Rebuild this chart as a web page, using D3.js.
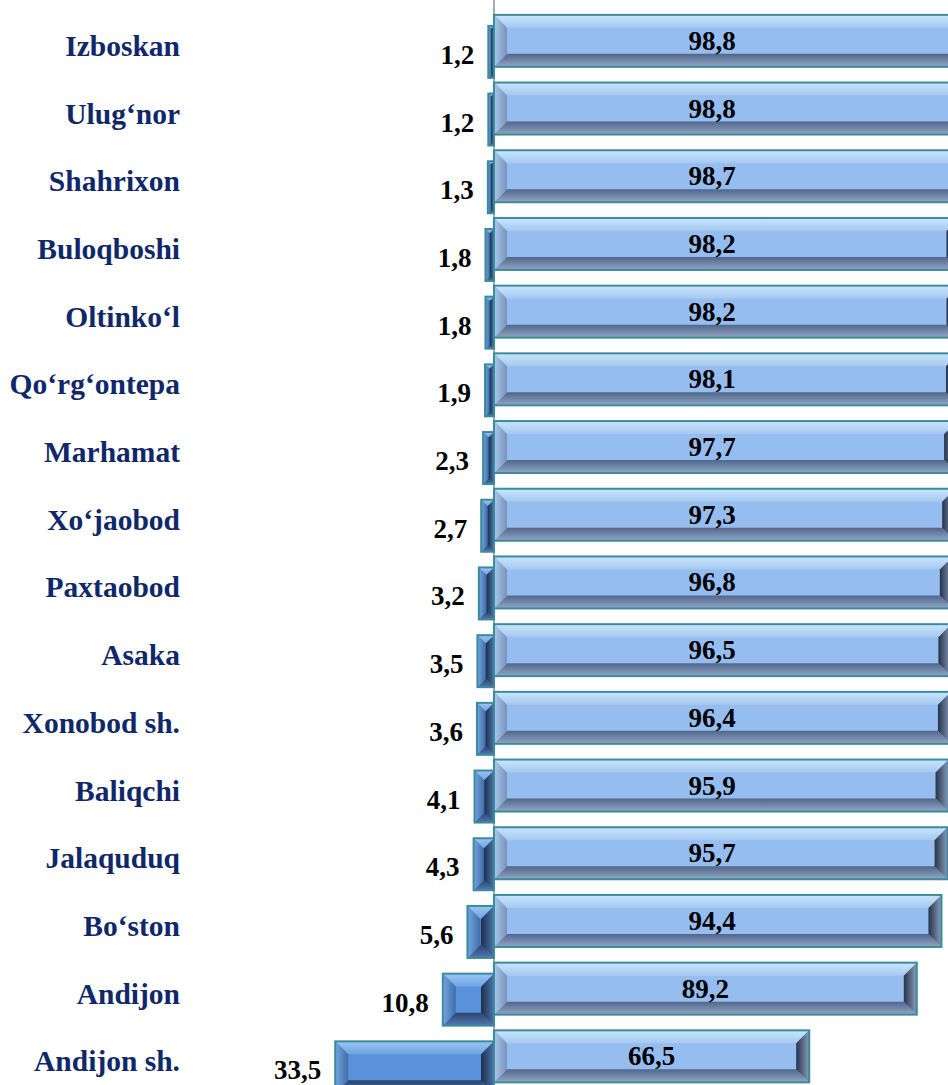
<!DOCTYPE html>
<html>
<head>
<meta charset="utf-8">
<script src="https://cdn.jsdelivr.net/npm/d3@7"></script>
<style>
  body { margin: 0; background: #fff; }
</style>
</head>
<body>
<div id="container"></div>
<script>
let w = 948;
let h = 1085;

// data
let categories = ["Izboskan", "Ulug‘nor", "Shahrixon", "Buloqboshi", "Oltinko‘l", "Qo‘rg‘ontepa",
  "Marhamat", "Xo‘jaobod", "Paxtaobod", "Asaka", "Xonobod sh.", "Baliqchi", "Jalaquduq",
  "Bo‘ston", "Andijon", "Andijon sh."];
let leftValues = [1.2, 1.2, 1.3, 1.8, 1.8, 1.9, 2.3, 2.7, 3.2, 3.5, 3.6, 4.1, 4.3, 5.6, 10.8, 33.5];
let rightValues = [98.8, 98.8, 98.7, 98.2, 98.2, 98.1, 97.7, 97.3, 96.8, 96.5, 96.4, 95.9, 95.7, 94.4, 89.2, 66.5];

let viz = d3.select("#container")
  .append("svg")
    .attr("width", w)
    .attr("height", h)
    .style("display", "block");

let zeroX = 494;
let xScale = d3.scaleLinear().domain([-100, 100]).range([zeroX - 474, zeroX + 474]);
let yScale = d3.scaleBand().domain(categories)
  .range([7, 7 + 16 * 67.7])
  .paddingInner(0.232)
  .paddingOuter(0.116);

let fmt = v => d3.format(".1f")(v).replace(".", ",");

// bevel colours for both series
let styles = {
  right: {
    border: "#3b8b9f", face: "#95bdf0",
    top: ["#c8e6fb", "#a6c8f1"], left: ["#a9c9ef", "#7892b6"],
    bottom: ["#50668a", "#93a7c6"], right: ["#263449", "#8a9dbd"]
  },
  left: {
    border: "#3b8b9f", face: "#5a92da",
    top: ["#9cc6f2", "#6ea3e2"], left: ["#74a6e4", "#3f6da6"],
    bottom: ["#28446e", "#5379b0"], right: ["#1c2f4b", "#4d74aa"]
  }
};

let defs = viz.append("defs");
function grad(id, c, vertical) {
  let g = defs.append("linearGradient").attr("id", id)
    .attr("x1", 0).attr("y1", 0)
    .attr("x2", vertical ? 0 : 1).attr("y2", vertical ? 1 : 0);
  g.append("stop").attr("offset", "0%").attr("stop-color", c[0]);
  g.append("stop").attr("offset", "100%").attr("stop-color", c[1]);
}
Object.keys(styles).forEach(k => {
  let s = styles[k];
  grad(k + "-top", s.top, true);
  grad(k + "-bottom", s.bottom, true);
  grad(k + "-left", s.left, false);
  grad(k + "-right", s.right, false);
});

// axis line in the middle
viz.append("line")
  .attr("x1", zeroX).attr("x2", zeroX)
  .attr("y1", 0).attr("y2", h)
  .attr("stroke", "#8c8c8c")
  .attr("stroke-width", 1.5);

function bevelBar(g, x, y, bw, bh, key) {
  let s = styles[key];
  let b = Math.min(13, bw / 2, bh / 2);
  let pts = arr => arr.map(p => p.join(",")).join(" ");
  g.append("rect").attr("x", x).attr("y", y).attr("width", bw).attr("height", bh)
    .attr("fill", s.face);
  g.append("polygon").attr("points", pts([[x, y], [x + bw, y], [x + bw - b, y + b], [x + b, y + b]]))
    .attr("fill", "url(#" + key + "-top)");
  g.append("polygon").attr("points", pts([[x, y + bh], [x + b, y + bh - b], [x + bw - b, y + bh - b], [x + bw, y + bh]]))
    .attr("fill", "url(#" + key + "-bottom)");
  g.append("polygon").attr("points", pts([[x, y], [x + b, y + b], [x + b, y + bh - b], [x, y + bh]]))
    .attr("fill", "url(#" + key + "-left)");
  g.append("polygon").attr("points", pts([[x + bw, y], [x + bw, y + bh], [x + bw - b, y + bh - b], [x + bw - b, y + b]]))
    .attr("fill", "url(#" + key + "-right)");
  g.append("rect").attr("x", x).attr("y", y).attr("width", bw).attr("height", bh)
    .attr("fill", "none")
    .attr("stroke", s.border)
    .attr("stroke-width", 2);
}

let rows = viz.selectAll(".row").data(categories).enter()
  .append("g")
    .attr("class", "row");

let bh = yScale.bandwidth();

rows.each(function(d, i) {
  let g = d3.select(this);
  let top = yScale(d);
  // left series, sits a bit lower than the right one
  let lx = xScale(-leftValues[i]);
  bevelBar(g, lx, top + 11, zeroX - lx, bh, "left");
  // right series
  let rx = xScale(rightValues[i]);
  bevelBar(g, zeroX, top, rx - zeroX, bh, "right");

  g.append("text")
    .attr("x", (zeroX + Math.min(rx, 930)) / 2)
    .attr("y", top + bh / 2 + 9)
    .attr("text-anchor", "middle")
    .text(fmt(rightValues[i]))
    .style("font-family", "'Liberation Serif', 'Times New Roman', serif")
    .style("font-weight", "bold")
    .style("font-size", "27px")
    .attr("fill", "#000");

  g.append("text")
    .attr("x", lx - 14)
    .attr("y", top + 11 + bh / 2 + 12)
    .attr("text-anchor", "end")
    .text(fmt(leftValues[i]))
    .style("font-family", "'Liberation Serif', 'Times New Roman', serif")
    .style("font-weight", "bold")
    .style("font-size", "27px")
    .attr("fill", "#000");

  g.append("text")
    .attr("x", 180)
    .attr("y", top + 41)
    .attr("text-anchor", "end")
    .text(d)
    .style("font-family", "'Liberation Serif', 'Times New Roman', serif")
    .style("font-weight", "bold")
    .style("font-size", "29.5px")
    .attr("fill", "#0f286a");
});
</script>
</body>
</html>
